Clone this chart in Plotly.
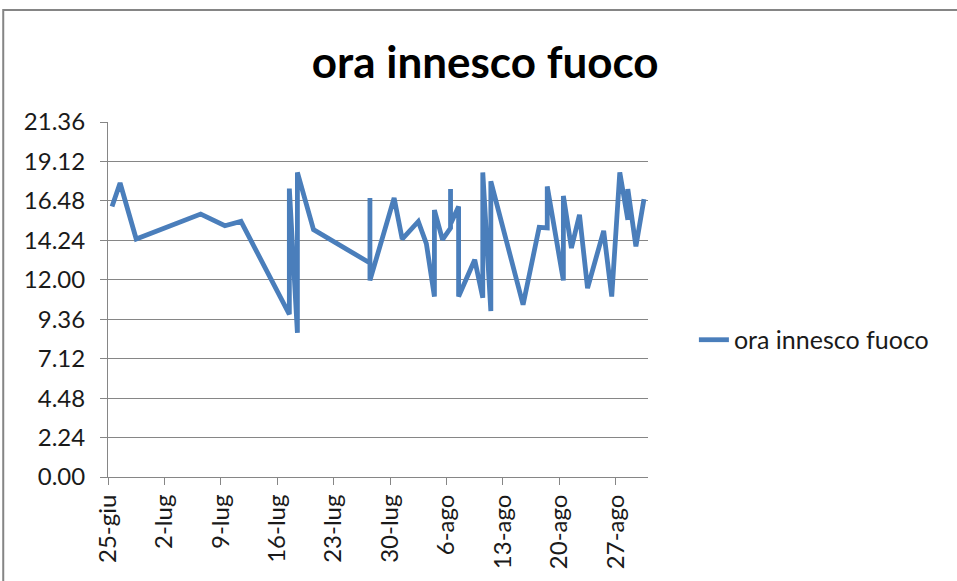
import pandas as pd
import plotly.graph_objects as go

# fire ignition times (decimal hours), one row per event; several events on the same day
dates = ['2011-06-25', '2011-06-26', '2011-06-28', '2011-07-06', '2011-07-09', '2011-07-11',
         '2011-07-17', '2011-07-17', '2011-07-18', '2011-07-18', '2011-07-20',
         '2011-07-27', '2011-07-27', '2011-07-27', '2011-07-30', '2011-07-31',
         '2011-08-02', '2011-08-03', '2011-08-04', '2011-08-04', '2011-08-05',
         '2011-08-06', '2011-08-06', '2011-08-06', '2011-08-07', '2011-08-07',
         '2011-08-09', '2011-08-10', '2011-08-10', '2011-08-11', '2011-08-11',
         '2011-08-15', '2011-08-17', '2011-08-18', '2011-08-18', '2011-08-20', '2011-08-20',
         '2011-08-21', '2011-08-22', '2011-08-23', '2011-08-25', '2011-08-26',
         '2011-08-27', '2011-08-28', '2011-08-28', '2011-08-29', '2011-08-30']
hours = [16.46, 17.89, 14.48, 16.0, 15.29, 15.55,
         9.9, 17.55, 8.77, 18.53, 15.05,
         13.02, 16.98, 11.96, 16.98, 14.48,
         15.55, 14.2, 10.98, 16.24, 14.44,
         15.15, 17.52, 15.4, 16.46, 10.98,
         13.22, 10.9, 18.53, 10.1, 17.99,
         10.48, 15.19, 15.16, 17.68, 11.96, 17.1,
         13.93, 15.96, 11.49, 14.98, 10.98,
         18.53, 15.65, 17.52, 14.03, 16.91]

y_ticks = [0, 2.4, 4.8, 7.2, 9.6, 12.0, 14.4, 16.8, 19.2, 21.6]
y_labels = ['0.00', '2.24', '4.48', '7.12', '9.36', '12.00', '14.24', '16.48', '19.12', '21.36']
x_ticks = ['2011-06-25', '2011-07-02', '2011-07-09', '2011-07-16', '2011-07-23',
           '2011-07-30', '2011-08-06', '2011-08-13', '2011-08-20', '2011-08-27']
x_labels = ['25-giu', '2-lug', '9-lug', '16-lug', '23-lug', '30-lug', '6-ago', '13-ago', '20-ago', '27-ago']

# Excel date axis puts each point in the middle of its day
x = pd.to_datetime(dates) + pd.Timedelta(hours=12)

fig = go.Figure()
fig.add_trace(go.Scatter(x=x, y=hours, mode='lines', name='ora innesco fuoco',
                         line=dict(color='#4a7ebb', width=4.8)))

grid = '#868686'
fig.update_layout(
    width=957, height=581,
    margin=dict(l=108, r=309, t=122, b=104),
    paper_bgcolor='white', plot_bgcolor='white',
    font=dict(family='Lato, Liberation Sans, sans-serif', size=24, color='#1a1a1a'),
    title=dict(text='<b>ora innesco fuoco</b>', x=0.507, y=0.893, xanchor='center', yanchor='middle',
               font=dict(size=44, color='black')),
    showlegend=True,
    legend=dict(x=1.085, y=0.386, xanchor='left', yanchor='middle', font=dict(size=25),
                bgcolor='rgba(0,0,0,0)'),
    xaxis=dict(type='date', range=['2011-06-25', '2011-08-31'],
               tickmode='array', tickvals=x_ticks, ticktext=x_labels, tickangle=-90,
               showgrid=False, showline=True, linecolor=grid, linewidth=1,
               ticks='outside', ticklen=7, tickcolor=grid, zeroline=False),
    yaxis=dict(range=[0, 21.6], tickmode='array', tickvals=y_ticks, ticktext=y_labels,
               showgrid=True, gridcolor=grid, gridwidth=1,
               showline=True, linecolor=grid, linewidth=1,
               ticks='outside', ticklen=7, tickcolor=grid, zeroline=False,
               ticklabelstandoff=10),
    # chart frame: only the top and left edges fall inside the picture
    shapes=[dict(type='rect', xref='paper', yref='paper',
                 x0=-0.194, x1=1.62, y0=-0.35, y1=1.3155,
                 line=dict(color='#858585', width=2), layer='below')],
)

fig.write_html("out.html", config={'displayModeBar': False},
               post_script="document.body.style.margin='0';")
